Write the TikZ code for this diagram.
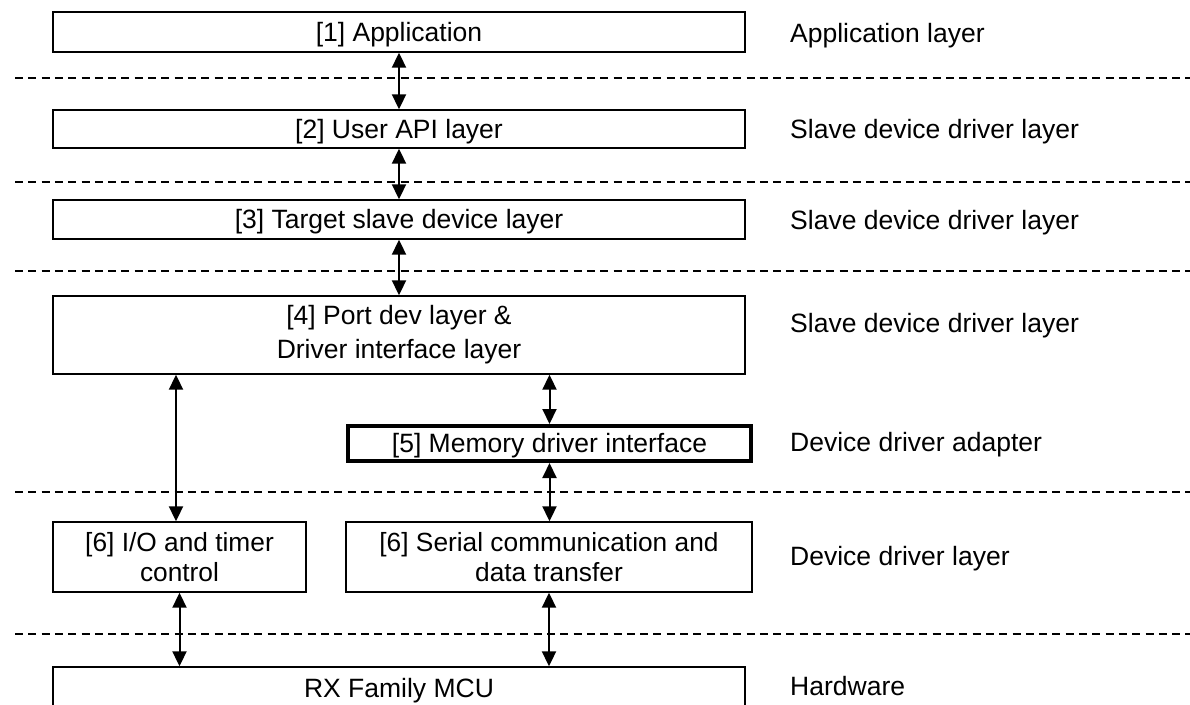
\documentclass[tikz,border=0pt]{standalone}
\usepackage{fontspec}
\setmainfont{Liberation Sans}
\usetikzlibrary{arrows.meta}
\begin{document}
\begin{tikzpicture}[x=1pt,y=-1pt,
  txt/.style={font=\fontsize{26.5}{34}\selectfont},
  box/.style={draw,line width=1.4pt,inner sep=0pt,txt,align=center},
  onebox/.style={box,text height=18.5pt,text depth=0pt},
  thickbox/.style={onebox,line width=4pt},
  lbl/.style={anchor=base west,inner sep=0pt,txt},
  sep/.style={line width=1.3pt,dash pattern=on 8pt off 5.3pt},
  dbl/.style={line width=2pt,{Triangle[width=14pt,length=15pt]}-{Triangle[width=14pt,length=15pt]}}
]
\useasboundingbox (0,0) rectangle (1190,704);
\clip (0,0) rectangle (1190,704);
\fill[white] (0,0) rectangle (1190,704);

% separators
\foreach \yy/\nm in {78/a,182/b,271/c,492/d,634/e}{
  \coordinate (sl\nm) at (15,\yy);
  \coordinate (sr\nm) at (1190,\yy);
  \draw[sep] (sl\nm) -- (sr\nm);
}

% boxes
\node[onebox,minimum width=692pt,minimum height=40pt] (app) at (399,32) {[1] Application};
\node[onebox,minimum width=692pt,minimum height=38pt] (api) at (399,129) {[2] User API layer};
\node[onebox,minimum width=692pt,minimum height=39pt] (tsd) at (399,219.5) {[3] Target slave device layer};
\node[box,minimum width=692pt,minimum height=78pt] (port) at (399,335) {[4] Port dev layer \&\\Driver interface layer};
\node[thickbox,minimum width=403pt,minimum height=35pt] (mem) at (549.5,443.5) {[5] Memory driver interface};
\node[box,font=\fontsize{26.3}{30}\selectfont,minimum width=253pt,minimum height=70pt] (io) at (179.5,557) {[6] I/O and timer\\control};
\node[box,font=\fontsize{26.3}{30}\selectfont,minimum width=406pt,minimum height=70pt] (sdt) at (549,557) {[6] Serial communication and\\data transfer};
\node[onebox,minimum width=692pt,minimum height=42pt] (mcu) at (399,688) {RX Family MCU};

% labels
\node[lbl] (l1) at (790,42) {Application layer};
\node[lbl] (l2) at (790,138) {Slave device driver layer};
\node[lbl] (l3) at (790,229) {Slave device driver layer};
\node[lbl] (l4) at (790,332) {Slave device driver layer};
\node[lbl] (l5) at (790,451) {Device driver adapter};
\node[lbl] (l6) at (790,565) {Device driver layer};
\node[lbl] (l7) at (790,695) {Hardware};

% connectors
\path (io.north) ++(-3.5,0) coordinate (ion);
\draw[dbl] (app.south) -- (api.north);
\draw[dbl] (api.south) -- (tsd.north);
\draw[dbl] (tsd.south) -- (port.north);
\draw[dbl] (port.south -| ion) -- (ion);
\draw[dbl] (port.south -| mem.north) -- (mem.north);
\draw[dbl] (mem.south) -- (sdt.north -| mem.south);
\draw[dbl] (io.south) -- (mcu.north -| io.south);
\draw[dbl] (sdt.south) -- (mcu.north -| sdt.south);
\end{tikzpicture}
\end{document}
